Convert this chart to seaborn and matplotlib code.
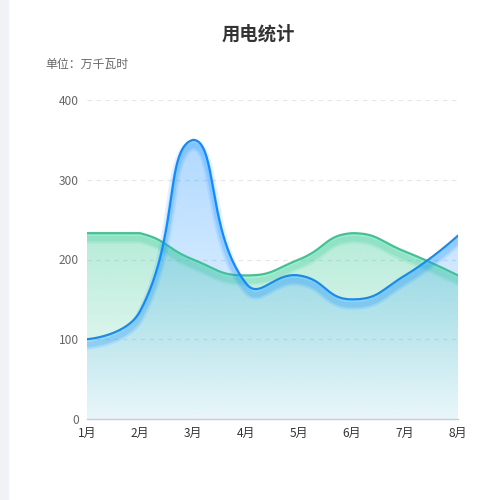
import numpy as np
import pandas as pd
import matplotlib
matplotlib.use("Agg")
import matplotlib.pyplot as plt
import matplotlib.patheffects as pe
from matplotlib.patches import Rectangle
import seaborn as sns

months = ['1月', '2月', '3月', '4月', '5月', '6月', '7月', '8月']
blue_values = [100, 135, 350, 170, 180, 150, 180, 230]
green_values = [233, 233, 200, 180, 200, 233, 210, 180]

BLUE = '#0f8cff'
GREEN = '#34c994'

sns.set_theme(style='white')
plt.rcParams['font.family'] = ['Noto Sans CJK SC', 'DejaVu Sans']

SX, SY = 53.0, 0.8  # pixel scale used for echarts-like smoothing


def smooth_curve(vals, smooth=0.5, nseg=60):
    n = len(vals)
    P = np.column_stack([np.arange(n) * SX, np.asarray(vals, float) * SY])
    mn, mx = P.min(0), P.max(0)
    pts = [P[0]]
    cp0 = P[0].copy()
    v = np.zeros(2)
    ratio = 0.5
    t = np.linspace(0, 1, nseg)[1:, None]
    for i in range(1, n):
        p = P[i]
        if i == n - 1:
            cp1 = p.copy()
        else:
            prev, nxt = P[i - 1], P[i + 1]
            v = nxt - prev
            d0 = np.linalg.norm(p - prev)
            d1 = np.linalg.norm(p - nxt)
            ratio = d1 / (d0 + d1)
            cp1 = p - smooth * (1 - ratio) * v
        c0 = np.clip(cp0, mn, mx)
        c1 = np.clip(cp1, mn, mx)
        a = P[i - 1]
        seg = ((1 - t) ** 3) * a + 3 * ((1 - t) ** 2) * t * c0 + 3 * (1 - t) * t ** 2 * c1 + t ** 3 * p
        pts.extend(seg)
        cp0 = p + smooth * ratio * v
    pts = np.array(pts)
    return pts[:, 0] / SX, pts[:, 1] / SY


fig = plt.figure(figsize=(5, 5), dpi=100)
fig.patches.append(Rectangle((0, 0), 8 / 500, 1, transform=fig.transFigure,
                             color='#f1f2f7', zorder=0))
ax = fig.add_axes([87 / 500, 81 / 500, 371 / 500, 319 / 500])

ax.set_xlim(0, len(months) - 1)
ax.set_ylim(0, 400)


def gradient_area(xs, ys, color, a_top, a_bot, z):
    rgb = np.array(matplotlib.colors.to_rgb(color))
    ymax = ys.max()
    N = 256
    grad = np.zeros((N, 1, 4))
    grad[:, 0, :3] = rgb
    grad[:, 0, 3] = np.linspace(a_top, a_bot, N)
    poly = ax.fill_between(xs, 0, ys, facecolor='none', edgecolor='none')
    im = ax.imshow(grad, extent=[xs.min(), xs.max(), 0, ymax], aspect='auto',
                   origin='upper', zorder=z, interpolation='bilinear')
    im.set_clip_path(poly.get_paths()[0], transform=ax.transData)
    poly.remove()


gx, gy = smooth_curve(green_values)
bx, by = smooth_curve(blue_values)

gradient_area(gx, gy, GREEN, 0.36, 0.05, 1)
gradient_area(bx, by, BLUE, 0.33, 0.05, 2)

df = pd.concat([
    pd.DataFrame({'x': gx, 'y': gy, 'series': 'green'}),
    pd.DataFrame({'x': bx, 'y': by, 'series': 'blue'}),
])
sns.lineplot(data=df, x='x', y='y', hue='series', sort=False,
             palette={'green': GREEN, 'blue': BLUE}, linewidth=1.6,
             legend=False, ax=ax, estimator=None)

for line, col, z in zip(ax.get_lines(), [GREEN, BLUE], [3, 4]):
    line.set_zorder(z)
    line.set_path_effects([
        pe.SimpleLineShadow(offset=(0, -4), shadow_color=col, alpha=0.12, rho=1, linewidth=7),
        pe.SimpleLineShadow(offset=(0, -4), shadow_color=col, alpha=0.18, rho=1, linewidth=4),
        pe.Normal(),
    ])

ax.set_xticks(range(len(months)))
ax.set_xticklabels(months)
ax.set_yticks([0, 100, 200, 300, 400])
ax.set_xlabel('')
ax.set_ylabel('')
ax.yaxis.grid(True, linestyle=(0, (4, 4)), color='#e6e6e6', linewidth=0.8)
ax.xaxis.grid(False)
ax.set_axisbelow(True)
for s in ['top', 'right', 'left']:
    ax.spines[s].set_visible(False)
ax.spines['bottom'].set_color('#cccccc')
ax.spines['bottom'].set_linewidth(1)
ax.spines['bottom'].set_zorder(5)
ax.tick_params(axis='x', length=4, width=1, color='#cccccc', labelcolor='#333333',
               labelsize=8.6, pad=2)
ax.tick_params(axis='y', length=0, labelcolor='#666666', labelsize=8.6, pad=6)
ax.set_facecolor('none')

fig.text(258 / 500, 1 - 34 / 500, '用电统计', ha='center', va='center',
         fontsize=13.2, fontweight='bold', color='#333333')
fig.text(45 / 500, 1 - 64 / 500, '单位：万千瓦时', ha='left', va='center',
         fontsize=8.6, color='#666666')

fig.savefig('out.png', dpi=100)
